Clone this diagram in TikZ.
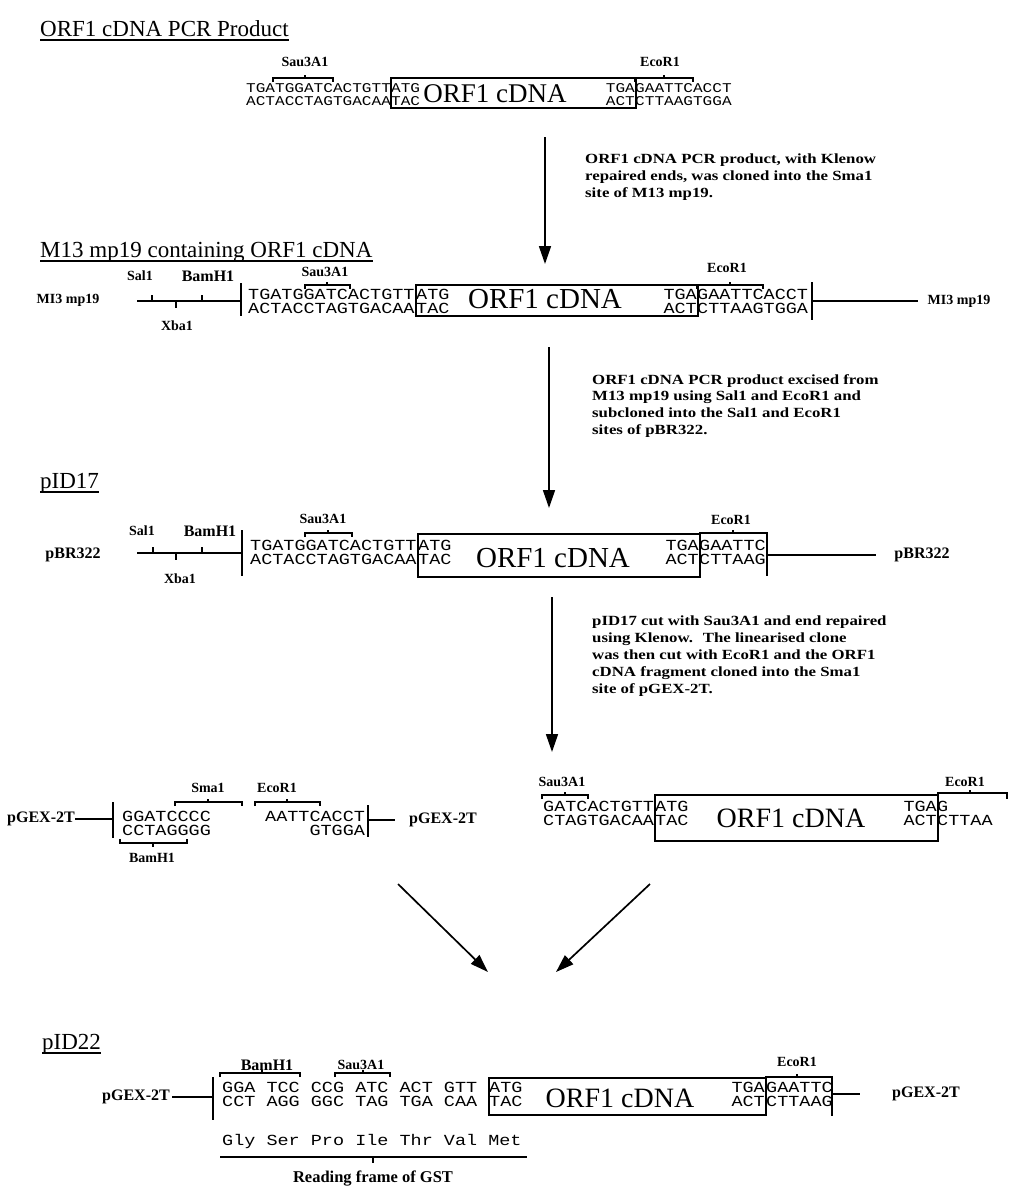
\documentclass[tikz,border=0pt]{standalone}
\usepackage{fontspec}
\setmainfont{Liberation Serif}
\newfontfamily\seqfont[FakeStretch=1.2]{Liberation Mono}
\newfontfamily\descfont[FakeStretch=1.2]{Liberation Serif}
\usetikzlibrary{arrows.meta}
\tikzset{
  ttl/.style={font=\fontsize{23}{26}\selectfont, anchor=base west, inner sep=0pt},
  lab/.style={font=\bfseries\fontsize{14}{16}\selectfont, inner sep=0pt},
  labw/.style={font=\bfseries\fontsize{16}{18}\selectfont, inner sep=0pt},
  dsc/.style={font=\descfont\bfseries\fontsize{14}{16.8}\selectfont, align=left, anchor=north west, inner sep=0pt},
  sqa/.style={font=\seqfont\fontsize{13.4}{15}\selectfont, inner sep=0pt},
  sqb/.style={font=\seqfont\fontsize{15.4}{17}\selectfont, inner sep=0pt},
  orf/.style={font=\fontsize{28}{30}\selectfont, inner sep=0pt},
  orfa/.style={font=\fontsize{27}{29}\selectfont, inner sep=0pt},
  orfb/.style={font=\fontsize{29}{31}\selectfont, inner sep=0pt},
  obox/.style={draw, line width=1.6pt, inner sep=0pt, anchor=north west},
  ln/.style={line width=1.5pt},
  brk/.style={line width=1.2pt},
  uline/.style={line width=1.3pt},
  flow/.style={line width=1.7pt, -{Triangle[length=18pt,width=12pt]}},
}
\newcommand{\rsite}[4]{\draw[brk] (#1,#3+4) -- (#1,#3) -- (#2,#3) -- (#2,#3+4); \draw[brk] (#4,#3) -- (#4,#3-3);}
\begin{document}
\begin{tikzpicture}[x=1pt,y=-1pt]
\fill[white] (0,0) rectangle (1016,1192);
\useasboundingbox (0,0) rectangle (1016,1192);

% ---------------- Section 1 ----------------
\node[ttl] (t1) at (40,36) {ORF1 cDNA PCR Product};
\draw[uline] ([yshift=-4pt]t1.base west) -- ([yshift=-4pt]t1.base east);
\node[lab] (s1sau) at (305,62) {Sau3A1};
\rsite{273}{333}{78}{305}
\node[sqa, anchor=west] (s1l1) at (246,88) {TGATGGATCACTGTT};
\node[sqa, anchor=west] (s1l2) at (246,101) {ACTACCTAGTGACAA};
\node[obox, minimum width=245pt, minimum height=30pt] (box1) at (390,77) {};
\node[sqa, anchor=west] (s1a1) at (391,88) {ATG};
\node[sqa, anchor=west] (s1a2) at (391,101) {TAC};
\node[orfa] (s1orf) at (495,94) {ORF1 cDNA};
\node[sqa, anchor=east] (s1t1) at (635,88) {TGA};
\node[sqa, anchor=east] (s1t2) at (635,101) {ACT};
\node[sqa, anchor=west] (s1r1) at (635,88) {GAATTCACCT};
\node[sqa, anchor=west] (s1r2) at (635,101) {CTTAAGTGGA};
\node[lab] (s1eco) at (660,62) {EcoR1};
\rsite{635}{693}{78}{664}

\coordinate (a1s) at (545,137);
\coordinate (a1e) at (545,264);
\draw[flow] (a1s) -- (a1e);
\node[dsc] (d1) at (585,154) {ORF1 cDNA PCR product, with Klenow\\repaired ends, was cloned into the Sma1\\site of M13 mp19.};

% ---------------- Section 2 ----------------
\node[ttl] (t2) at (40,257) {M13 mp19 containing ORF1 cDNA};
\draw[uline] ([yshift=-4pt]t2.base west) -- ([yshift=-4pt]t2.base east);
\node[lab] (s2v1) at (68,300) {MI3 mp19};
\node[lab] (s2sal) at (140,276) {Sal1};
\node[labw] (s2bam) at (208,276) {BamH1};
\node[lab] (s2xba) at (177,326) {Xba1};
\coordinate (s2ls) at (137,301);
\coordinate (s2le) at (241,301);
\draw[ln] (s2ls) -- (s2le);
\draw[ln] (152,301) -- (152,295);
\draw[ln] (202,301) -- (202,295);
\draw[ln] (176,301) -- (176,308);
\draw[ln] (241,283) -- (241,316);
\node[lab] (s2sau) at (325,272) {Sau3A1};
\rsite{305}{350}{285}{327}
\node[sqb, anchor=west] (s2l1) at (248,294) {TGATGGATCACTGTT};
\node[sqb, anchor=west] (s2l2) at (248,308) {ACTACCTAGTGACAA};
\node[obox, minimum width=282pt, minimum height=31pt] (box2) at (415,284) {};
\node[sqb, anchor=west] (s2a1) at (416,294) {ATG};
\node[sqb, anchor=west] (s2a2) at (416,308) {TAC};
\node[orfb] (s2orf) at (545,299) {ORF1 cDNA};
\node[sqb, anchor=east] (s2t1) at (697,294) {TGA};
\node[sqb, anchor=east] (s2t2) at (697,308) {ACT};
\node[sqb, anchor=west] (s2r1) at (697,294) {GAATTCACCT};
\node[sqb, anchor=west] (s2r2) at (697,308) {CTTAAGTGGA};
\node[lab] (s2eco) at (727,268) {EcoR1};
\rsite{697}{763}{285}{730}
\draw[ln] (812,282) -- (812,320);
\coordinate (s2rs) at (812,301);
\coordinate (s2re) at (918,301);
\draw[ln] (s2rs) -- (s2re);
\node[lab] (s2v2) at (959,301) {MI3 mp19};

\coordinate (a2s) at (549,347);
\coordinate (a2e) at (549,508);
\draw[flow] (a2s) -- (a2e);
\node[dsc] (d2) at (592,374) {ORF1 cDNA PCR product excised from\\M13 mp19 using Sal1 and EcoR1 and\\subcloned into the Sal1 and EcoR1\\sites of pBR322.};

% ---------------- Section 3 ----------------
\node[ttl] (t3) at (40,488) {pID17};
\draw[uline] ([yshift=-4pt]t3.base west) -- ([yshift=-4pt]t3.base east);
\node[labw] (s3v1) at (73,555) {pBR322};
\node[lab] (s3sal) at (142,531) {Sal1};
\node[labw] (s3bam) at (210,531) {BamH1};
\node[lab] (s3xba) at (180,579) {Xba1};
\coordinate (s3ls) at (137,553);
\coordinate (s3le) at (242,553);
\draw[ln] (s3ls) -- (s3le);
\draw[ln] (153,553) -- (153,547);
\draw[ln] (202,553) -- (202,547);
\draw[ln] (176,553) -- (176,560);
\draw[ln] (242,530) -- (242,576);
\node[lab] (s3sau) at (323,519) {Sau3A1};
\rsite{305}{352}{533}{328}
\node[sqb, anchor=west] (s3l1) at (250,545) {TGATGGATCACTGTT};
\node[sqb, anchor=west] (s3l2) at (250,559) {ACTACCTAGTGACAA};
\node[obox, minimum width=282pt, minimum height=43pt] (box3) at (417,533) {};
\node[sqb, anchor=west] (s3a1) at (418,545) {ATG};
\node[sqb, anchor=west] (s3a2) at (418,559) {TAC};
\node[orfb] (s3orf) at (553,558) {ORF1 cDNA};
\node[sqb, anchor=east] (s3t1) at (699,545) {TGA};
\node[sqb, anchor=east] (s3t2) at (699,559) {ACT};
\node[sqb, anchor=west] (s3r1) at (699,545) {GAATTC};
\node[sqb, anchor=west] (s3r2) at (699,559) {CTTAAG};
\node[lab] (s3eco) at (731,520) {EcoR1};
\draw[brk] (699,533) -- (767,533) -- (767,576);
\draw[brk] (733,533) -- (733,530);
\coordinate (s3rs) at (767,555);
\coordinate (s3re) at (876,555);
\draw[ln] (s3rs) -- (s3re);
\node[labw] (s3v2) at (922,555) {pBR322};

\coordinate (a3s) at (552,597);
\coordinate (a3e) at (552,752);
\draw[flow] (a3s) -- (a3e);
\node[dsc] (d3) at (592,616) {pID17 cut with Sau3A1 and end repaired\\using Klenow.~ The linearised clone\\was then cut with EcoR1 and the ORF1\\cDNA fragment cloned into the Sma1\\site of pGEX-2T.};

% ---------------- Section 4 left ----------------
\node[labw] (s4v1) at (41,819) {pGEX-2T};
\coordinate (s4ls) at (75,819);
\coordinate (s4le) at (113,819);
\draw[ln] (s4ls) -- (s4le);
\draw[ln] (113,802) -- (113,838);
\node[sqb, anchor=west] (s4l1) at (122,816) {GGATCCCC};
\node[sqb, anchor=west] (s4l2) at (122,830) {CCTAGGGG};
\node[lab] (s4sma) at (208,788) {Sma1};
\rsite{175}{242}{802}{208}
\node[lab] (s4eco) at (277,788) {EcoR1};
\rsite{255}{320}{802}{287}
\node[sqb, anchor=west] (s4r1) at (265,816) {AATTCACCT};
\node[sqb, anchor=east] (s4r2) at (s4r1.east |- 0,830) {GTGGA};
\draw[ln] (368,805) -- (368,837);
\coordinate (s4rs) at (368,820);
\coordinate (s4re) at (395,820);
\draw[ln] (s4rs) -- (s4re);
\node[labw] (s4v2) at (443,820) {pGEX-2T};
\draw[brk] (120,839) -- (120,843) -- (187,843) -- (187,839);
\draw[brk] (153,843) -- (153,847);
\node[lab] (s4bam) at (152,858) {BamH1};

% ---------------- Section 4 right ----------------
\node[lab] (s4sau) at (562,782) {Sau3A1};
\rsite{542}{588}{795}{565}
\node[sqb, anchor=west] (s4m1) at (543,806) {GATCACTGTT};
\node[sqb, anchor=west] (s4m2) at (543,820) {CTAGTGACAA};
\node[obox, minimum width=283pt, minimum height=46pt] (box4) at (654,794) {};
\node[sqb, anchor=west] (s4a1) at (655,806) {ATG};
\node[sqb, anchor=west] (s4a2) at (655,820) {TAC};
\node[orf] (s4orf) at (791,818) {ORF1 cDNA};
\node[sqb, anchor=east] (s4t1) at (937,806) {TGA};
\node[sqb, anchor=east] (s4t2) at (937,820) {ACT};
\node[sqb, anchor=west] (s4g1) at (937,806) {G};
\node[sqb, anchor=west] (s4g2) at (937,820) {CTTAA};
\node[lab] (s4eco2) at (965,782) {EcoR1};
\draw[brk] (937,793) -- (1007,793) -- (1007,799);
\draw[brk] (970,793) -- (970,790);

% ---------------- converging arrows ----------------
\coordinate (a4s) at (398,884);
\coordinate (a4e) at (488,972);
\draw[flow] (a4s) -- (a4e);
\coordinate (a5s) at (650,884);
\coordinate (a5e) at (556,972);
\draw[flow] (a5s) -- (a5e);

% ---------------- Section 5 ----------------
\node[ttl] (t5) at (42,1049) {pID22};
\draw[uline] ([yshift=-4pt]t5.base west) -- ([yshift=-4pt]t5.base east);
\node[labw] (s5v1) at (136,1097) {pGEX-2T};
\coordinate (s5ls) at (172,1097);
\coordinate (s5le) at (213,1097);
\draw[ln] (s5ls) -- (s5le);
\draw[ln] (213,1077) -- (213,1120);
\node[labw] (s5bam) at (267,1065) {BamH1};
\rsite{220}{300}{1073}{262}
\node[lab] (s5sau) at (361,1065) {Sau3A1};
\rsite{335}{390}{1073}{363}
\node[sqb, anchor=west] (s5l1) at (222,1087) {GGA TCC CCG ATC ACT GTT};
\node[sqb, anchor=west] (s5l2) at (222,1101) {CCT AGG GGC TAG TGA CAA};
\node[obox, minimum width=277pt, minimum height=37pt] (box5) at (488,1077) {};
\node[sqb, anchor=west] (s5a1) at (489,1087) {ATG};
\node[sqb, anchor=west] (s5a2) at (489,1101) {TAC};
\node[orf] (s5orf) at (620,1098) {ORF1 cDNA};
\node[sqb, anchor=east] (s5t1) at (765,1087) {TGA};
\node[sqb, anchor=east] (s5t2) at (765,1101) {ACT};
\node[sqb, anchor=west] (s5r1) at (766,1087) {GAATTC};
\node[sqb, anchor=west] (s5r2) at (766,1101) {CTTAAG};
\node[lab] (s5eco) at (797,1062) {EcoR1};
\draw[brk] (765,1077) -- (832,1077) -- (832,1116);
\draw[brk] (797,1077) -- (797,1074);
\coordinate (s5rs) at (832,1094);
\coordinate (s5re) at (860,1094);
\draw[ln] (s5rs) -- (s5re);
\node[labw] (s5v2) at (926,1094) {pGEX-2T};
\node[sqb, anchor=base west] (s5aa) at (222,1145) {Gly Ser Pro Ile Thr Val Met};
\coordinate (s5fs) at (220,1157);
\coordinate (s5fe) at (527,1157);
\draw[ln] (s5fs) -- (s5fe);
\draw[ln] (373,1157) -- (373,1163);
\node[font=\bfseries\fontsize{16.5}{18}\selectfont, inner sep=0pt] (s5gst) at (373,1178) {Reading frame of GST};
\end{tikzpicture}
\end{document}
